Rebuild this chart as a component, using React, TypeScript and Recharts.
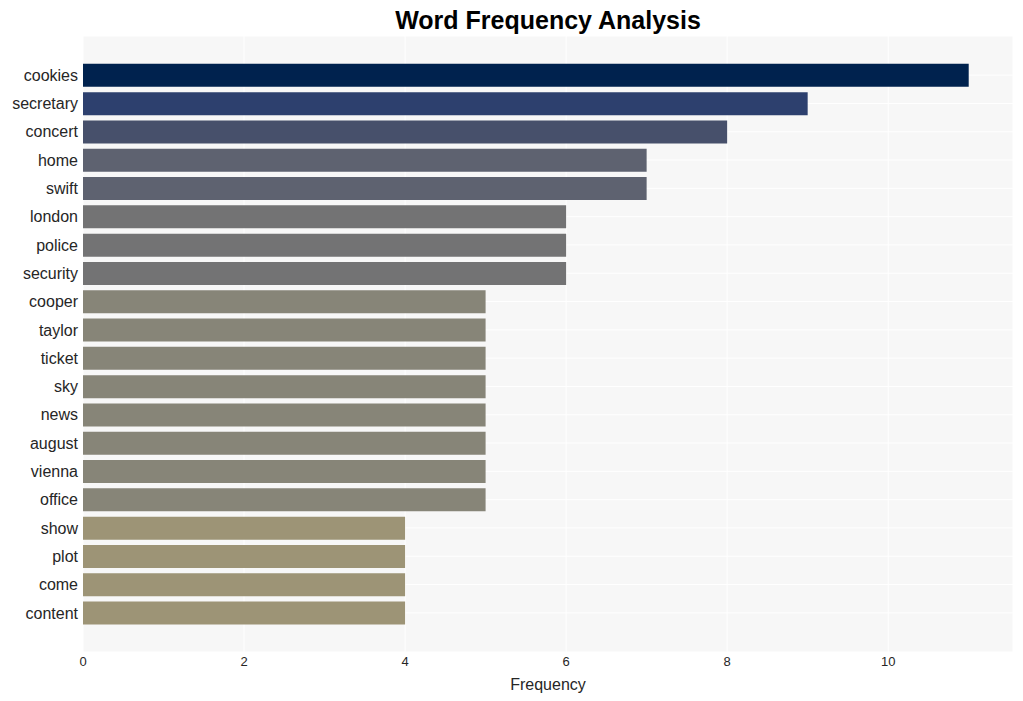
import { BarChart, Bar, Cell, XAxis, YAxis, CartesianGrid } from "recharts";

const words = [
  "cookies", "secretary", "concert", "home", "swift", "london", "police", "security",
  "cooper", "taylor", "ticket", "sky", "news", "august", "vienna", "office",
  "show", "plot", "come", "content",
];
const counts = [11, 9, 8, 7, 7, 6, 6, 6, 5, 5, 5, 5, 5, 5, 5, 5, 4, 4, 4, 4];
const xTicks = [0, 2, 4, 6, 8, 10];

// colour per frequency (cividis-like, darker = more frequent)
const COLOR_BY_COUNT: Record<number, string> = {
  11: "#00224E",
  9: "#2D406E",
  8: "#47506B",
  7: "#5E6270",
  6: "#737374",
  5: "#878578",
  4: "#9D9476",
};

const data = words.map((w, i) => ({ word: w, count: counts[i] }));

const FONT = "'Liberation Sans', Arial, Helvetica, sans-serif";

export default function App() {
  return (
    <div style={{ position: "absolute", left: 0, top: 0, width: 1023, height: 701, background: "#fff", fontFamily: FONT }}>
      <div
        style={{
          position: "absolute",
          left: 83,
          width: 930,
          top: 5,
          textAlign: "center",
          fontSize: 25,
          fontWeight: "bold",
          color: "#000",
          lineHeight: "30px",
        }}
      >
        Word Frequency Analysis
      </div>
      <BarChart
        width={1023}
        height={701}
        data={data}
        layout="vertical"
        margin={{ top: 36, right: 10, bottom: 0, left: 0 }}
        barCategoryGap="10%"
      >
        <CartesianGrid fill="#F7F7F7" stroke="#FFFFFF" strokeWidth={1} />
        <XAxis
          type="number"
          domain={[0, 11.55]}
          ticks={xTicks}
          allowDataOverflow
          height={49}
          axisLine={false}
          tickLine={false}
          tickSize={0}
          tickMargin={5}
          tick={{ fontSize: 13, fill: "#262626", fontFamily: FONT }}
          label={{ value: "Frequency", position: "insideBottom", offset: 11, fontSize: 16, fill: "#262626", fontFamily: FONT }}
        />
        <YAxis
          type="category"
          dataKey="word"
          width={83}
          axisLine={false}
          tickLine={false}
          tickSize={0}
          tickMargin={5}
          interval={0}
          padding={{ top: 25, bottom: 25 }}
          tick={{ fontSize: 16, fill: "#262626", fontFamily: FONT }}
        />
        <Bar dataKey="count" isAnimationActive={false}>
          {data.map((d, i) => (
            <Cell key={`cell-${i}`} fill={COLOR_BY_COUNT[d.count]} />
          ))}
        </Bar>
      </BarChart>
    </div>
  );
}
